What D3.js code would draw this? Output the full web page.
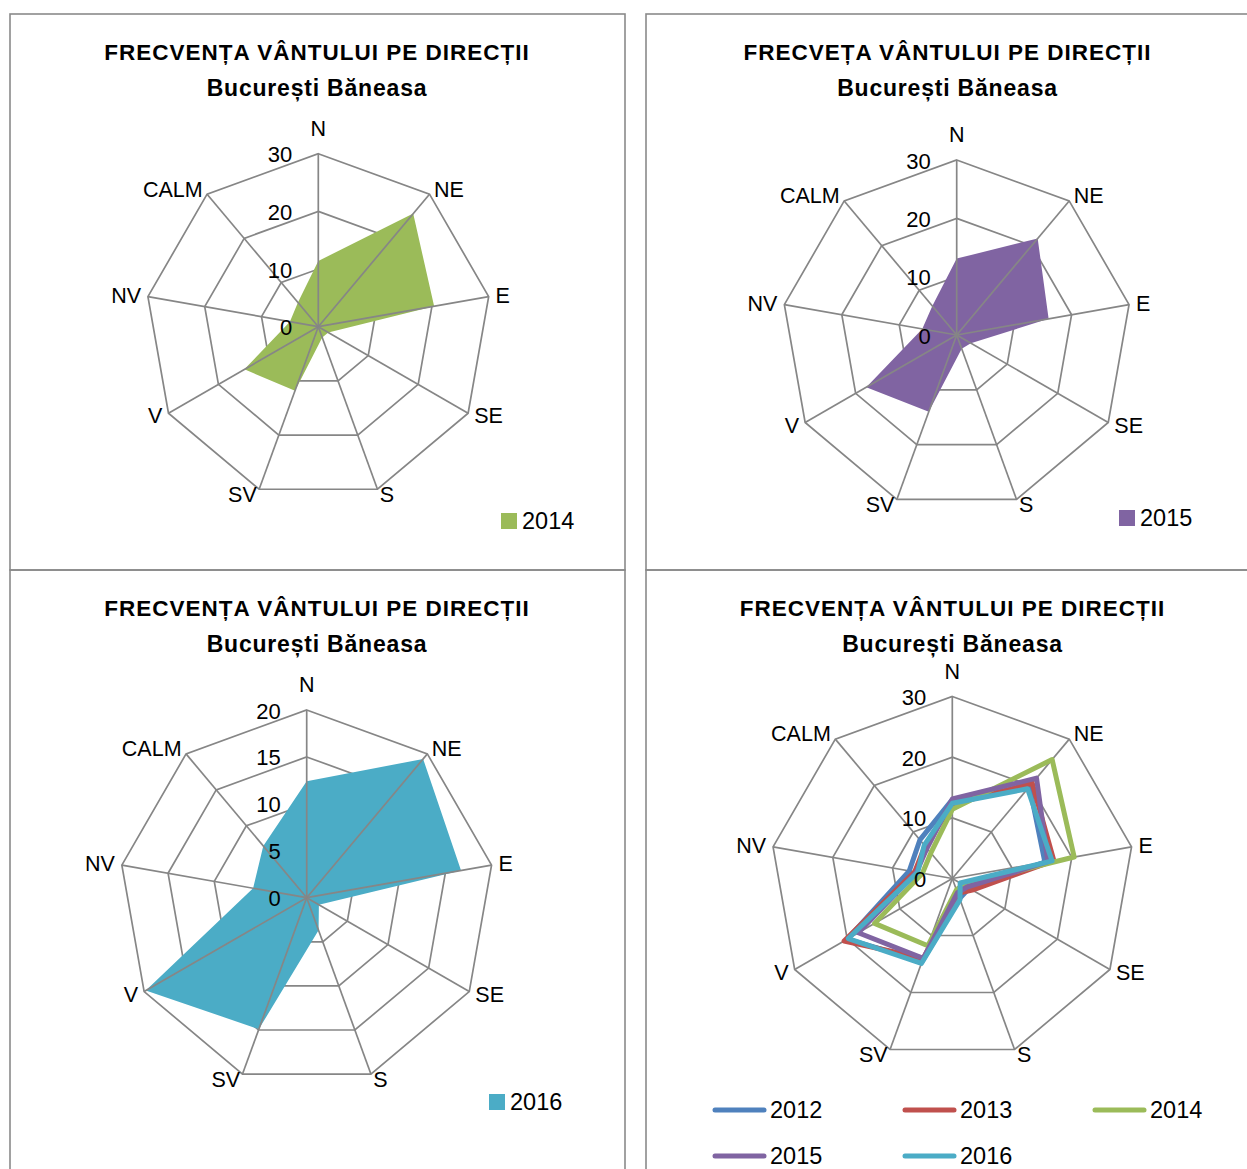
<!DOCTYPE html>
<html><head><meta charset="utf-8">
<script src="https://cdn.jsdelivr.net/npm/d3@7"></script>
<style>
body{margin:0;background:#fff}
svg{display:block}
text{font-family:"Liberation Sans",Arial,sans-serif;fill:#000}
</style>
</head><body>
<svg id="c" width="1247" height="1169"></svg>
<script>
// ---------- data ----------
const directions = ["N","NE","E","SE","S","SV","V","NV","CALM"];
const years = ["2012","2013","2014","2015","2016"];
const values2012 = [13.0,19.8,15.5,3.2,3.5,14.5,20.0,7.2,8.3];
const values2013 = [12.2,20.5,17.0,3.8,2.6,14.0,20.6,6.3,7.0];
const values2014 = [11.4,25.6,20.4,2.0,2.0,11.8,14.8,5.0,5.5];
const values2015 = [13.1,21.6,16.0,2.8,2.5,14.0,17.9,6.0,6.5];
const values2016 = [12.4,19.3,16.7,1.5,3.7,14.9,19.8,5.8,7.2];
const ticks30 = [0,10,20,30];
const ticks20 = [0,5,10,15,20];
const titleA = "FRECVENȚA VÂNTULUI PE DIRECȚII";
const titleB = "FRECVEȚA VÂNTULUI PE DIRECȚII";
const subtitle = "București Băneasa";

// ---------- styles ----------
const colors = {"2012":"#4F81BD","2013":"#C0504D","2014":"#9BBB59","2015":"#8064A2","2016":"#4BACC6"};
const gridColor = "#868686";
const valuesByYear = {"2012":values2012,"2013":values2013,"2014":values2014,"2015":values2015,"2016":values2016};

const svg = d3.select("#c");

// panel frames
const frames = [[10,14,615,556],[646,14,615,556],[10,570,615,615],[646,570,615,615]];
svg.selectAll("rect.frame").data(frames).join("rect")
  .attr("x",d=>d[0]).attr("y",d=>d[1]).attr("width",d=>d[2]).attr("height",d=>d[3])
  .attr("fill","none").attr("stroke","#8a8a8a").attr("stroke-width",1.6);

const panels = [
  {title:titleA, tx:317, ty:14, cx:318.3, cy:326.7, R:173, ticks:ticks30, kind:"area", series:["2014"], legend:{x:501,y:513}},
  {title:titleB, tx:947.5, ty:14, cx:956.7, cy:335, R:175, ticks:ticks30, kind:"area", series:["2015"], legend:{x:1119,y:510}},
  {title:titleA, tx:317, ty:570, cx:306.7, cy:897.7, R:187.7, ticks:ticks20, kind:"area", series:["2016"], legend:{x:489,y:1094}},
  {title:titleA, tx:952.5, ty:570, cx:952.3, cy:878.5, R:182, ticks:ticks30, kind:"line", series:years, legend:null}
];

const angle = d3.scaleLinear().domain([0, directions.length]).range([0, 2*Math.PI]);

panels.forEach(p => {
  const g = svg.append("g");
  // titles
  g.append("text").attr("x",p.tx).attr("y",p.ty+46).attr("text-anchor","middle")
    .attr("font-size",22.5).attr("font-weight","bold").attr("letter-spacing",1.0).text(p.title);
  g.append("text").attr("x",p.tx).attr("y",p.ty+82).attr("text-anchor","middle")
    .attr("font-size",23).attr("font-weight","bold").attr("letter-spacing",0.8).text(subtitle);

  const maxV = d3.max(p.ticks);
  const r = d3.scaleLinear().domain([0,maxV]).range([0,p.R]);
  const plot = g.append("g").attr("transform",`translate(${p.cx},${p.cy})`);
  const pt = (i, v) => [r(v)*Math.sin(angle(i)), -r(v)*Math.cos(angle(i))];
  const ring = d3.line().curve(d3.curveLinearClosed);

  // rings
  plot.selectAll("path.ring").data(p.ticks.filter(t=>t>0)).join("path")
    .attr("d", t => ring(directions.map((d,i)=>pt(i,t))))
    .attr("fill","none").attr("stroke",gridColor).attr("stroke-width",1.7);

  const radial = d3.lineRadial().angle((d,i)=>angle(i)).radius(d=>r(d)).curve(d3.curveLinearClosed);

  if (p.kind === "area") {
    p.series.forEach(y => {
      plot.append("path").attr("d", radial(valuesByYear[y])).attr("fill", colors[y]).attr("stroke","none");
    });
  }
  // spokes
  plot.selectAll("line.spoke").data(directions).join("line")
    .attr("x1",0).attr("y1",0)
    .attr("x2",(d,i)=>pt(i,maxV)[0]).attr("y2",(d,i)=>pt(i,maxV)[1])
    .attr("stroke",gridColor).attr("stroke-width",1.7);

  if (p.kind === "line") {
    p.series.forEach(y => {
      plot.append("path").attr("d", radial(valuesByYear[y])).attr("fill","none")
        .attr("stroke", colors[y]).attr("stroke-width",5).attr("stroke-linejoin","round");
    });
  }

  // axis (category) labels
  plot.selectAll("text.cat").data(directions).join("text")
    .attr("font-size",21.5)
    .attr("dominant-baseline","central")
    .attr("text-anchor",(d,i)=>{const s=Math.sin(angle(i)); return Math.abs(s)<0.1?"middle":(s>0?"start":"end");})
    .attr("x",(d,i)=>pt(i,maxV)[0] + 7*Math.sin(angle(i)))
    .attr("y",(d,i)=>pt(i,maxV)[1] + (i===0 ? -25 : -6*Math.cos(angle(i))))
    .text(d=>d);

  // tick labels
  plot.selectAll("text.tick").data(p.ticks).join("text")
    .attr("font-size",22).attr("text-anchor","end").attr("dominant-baseline","central")
    .attr("x",-26).attr("y",t=>-r(t)+1).text(t=>t);

  // legend
  if (p.legend) {
    const y = p.series[0];
    g.append("rect").attr("x",p.legend.x).attr("y",p.legend.y).attr("width",16).attr("height",16).attr("fill",colors[y]);
    g.append("text").attr("x",p.legend.x+21).attr("y",p.legend.y+8).attr("dominant-baseline","central")
      .attr("font-size",23.5).text(y);
  }
});

// line legend for panel 4
const legCols = [713, 903, 1093];
const legRows = [1110, 1156];
const lg = svg.append("g");
years.forEach((y,i) => {
  const x = legCols[i%3], yy = legRows[Math.floor(i/3)];
  lg.append("line").attr("x1",x+2).attr("x2",x+51).attr("y1",yy).attr("y2",yy)
    .attr("stroke",colors[y]).attr("stroke-width",5).attr("stroke-linecap","round");
  lg.append("text").attr("x",x+57).attr("y",yy).attr("dominant-baseline","central")
    .attr("font-size",23.5).text(y);
});
</script>
</body></html>
